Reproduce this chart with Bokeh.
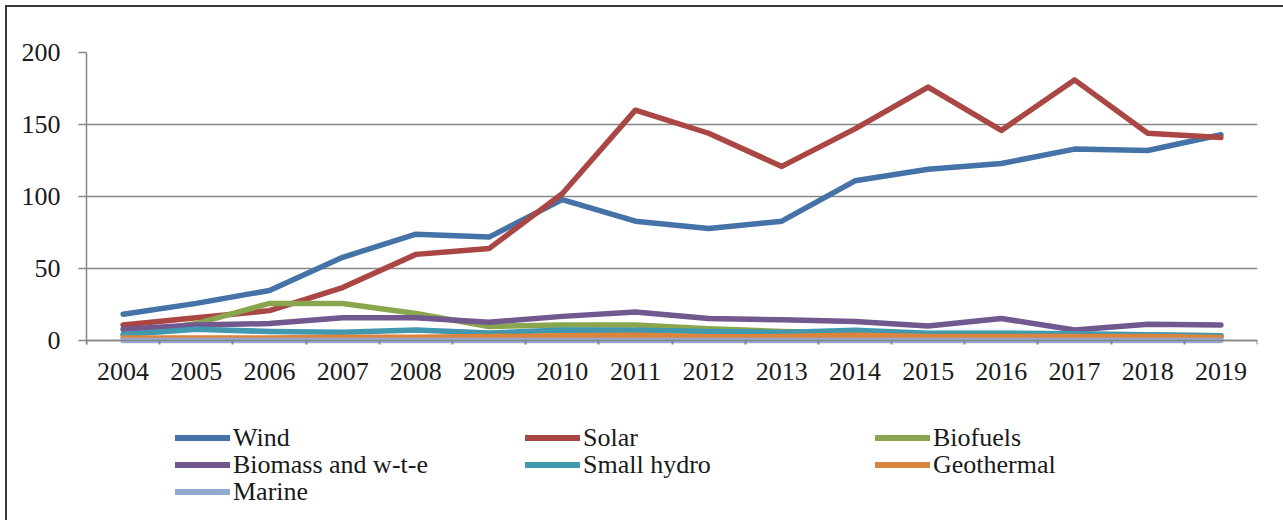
from bokeh.plotting import figure
from bokeh.layouts import column
from bokeh.models import FixedTicker, Legend, LegendItem, Range1d, LinearAxis
from bokeh.embed import file_html
from bokeh.resources import INLINE

years = list(range(2004, 2020))
wind = [18.5, 26, 35, 58, 74, 72, 98, 83, 78, 83, 111, 119, 123, 133, 132, 143]
solar = [11, 16, 21, 37, 60, 64, 102, 160, 144, 121, 147, 176, 146, 181, 144, 141]
biofuels = [4, 12, 26, 26, 19, 10, 11, 11, 8.5, 6.5, 5.5, 5, 5, 4.5, 4, 3.5]
biomass = [8, 11, 12, 16, 16, 13, 17, 20, 15.5, 14.6, 13.4, 10.4, 15.5, 7.6, 11.6, 11.1]
small_hydro = [4.5, 8, 6.5, 6, 7.5, 5.5, 7.5, 7.4, 6.5, 5.8, 7.4, 5.3, 5.3, 5, 4.2, 3.5]
geothermal = [2, 2, 2, 2.5, 2.5, 3, 3.5, 4, 2.8, 3, 4, 3, 3, 3, 3, 2.3]
marine = [0.3, 0.3, 0.3, 0.3, 0.3, 0.3, 0.3, 0.3, 0.3, 0.3, 0.3, 0.3, 0.3, 0.3, 0.3, 0.3]

series = [
    ("Wind", wind, "#4572A7"),
    ("Solar", solar, "#AA4643"),
    ("Biofuels", biofuels, "#89A54E"),
    ("Biomass and w-t-e", biomass, "#71588F"),
    ("Small hydro", small_hydro, "#4198AF"),
    ("Geothermal", geothermal, "#DB843D"),
    ("Marine", marine, "#93A9CF"),
]
y_ticks = [0, 50, 100, 150, 200]

FONT = "Liberation Serif"
GRAY = "#868686"
TXT = "#1a1a1a"
W = 1276

p = figure(width=W, height=394, output_backend="svg", toolbar_location=None,
           x_range=(years[0] - 0.5, years[-1] + 0.5), y_range=(-2.5, 200),
           min_border_left=79, min_border_right=26, min_border_top=45, min_border_bottom=57)
p.outline_line_color = None
p.background_fill_color = "white"
p.border_fill_color = "white"

# label axis (at frame bottom): year labels only
xa = p.xaxis[0]
xa.ticker = FixedTicker(ticks=years, minor_ticks=[])
xa.major_label_overrides = {y: str(y) for y in years}
xa.major_tick_line_color = None
xa.minor_tick_line_color = None
xa.axis_line_color = None
xa.major_label_standoff = 12
xa.major_label_text_font = FONT
xa.major_label_text_font_size = "26px"
xa.major_label_text_color = TXT

# axis line + boundary ticks at y = 0
xa0 = LinearAxis(ticker=FixedTicker(ticks=[], minor_ticks=[y - 0.5 for y in years] + [years[-1] + 0.5]),
                 fixed_location=0, axis_line_color=GRAY, axis_line_width=1.5,
                 major_tick_line_color=None, minor_tick_out=8, minor_tick_in=0,
                 minor_tick_line_color=GRAY, minor_tick_line_width=2)
p.add_layout(xa0, "below")

ya = p.yaxis[0]
ya.ticker = FixedTicker(ticks=y_ticks, minor_ticks=[])
ya.major_tick_out = 8
ya.major_tick_in = 0
ya.major_tick_line_color = GRAY
ya.major_tick_line_width = 1.5
ya.axis_line_color = GRAY
ya.axis_line_width = 1.5
ya.major_label_standoff = 18
ya.major_label_text_font = FONT
ya.major_label_text_font_size = "26px"
ya.major_label_text_color = TXT

p.xgrid.grid_line_color = None
p.ygrid.grid_line_color = GRAY
p.ygrid.grid_line_width = 1.5

for name, vals, col in series:
    p.line(years, vals, line_color=col, line_width=5.5, line_join="round", line_cap="round")

# legend panel (proxy renderers lie outside its visible range)
LH = 119
lg = figure(width=W, height=LH, output_backend="svg", toolbar_location=None,
            x_range=Range1d(0, 1), y_range=Range1d(-20, -10),
            x_axis_location=None, y_axis_location=None,
            min_border_left=0, min_border_right=0, min_border_top=0, min_border_bottom=0)
lg.outline_line_color = None
lg.xgrid.grid_line_color = None
lg.ygrid.grid_line_color = None
lg.background_fill_color = "white"
lg.border_fill_color = "white"

items = []
for name, vals, col in series:
    r = lg.line(years, vals, line_color=col, line_width=6, line_cap="round")
    items.append(LegendItem(label=name, renderers=[r]))

rows = [items[0:3], items[3:6], items[6:7]]
for i, row in enumerate(rows):
    leg = Legend(items=row, orientation="horizontal",
                 location=(89, LH - 24.5 - 27 * i - 27), margin=0, padding=0, spacing=0,
                 glyph_width=55, glyph_height=27, label_standoff=3,
                 label_width=292, label_height=27,
                 label_text_font=FONT, label_text_font_size="26px",
                 label_text_color=TXT, label_text_baseline="middle",
                 border_line_color=None, background_fill_alpha=0)
    lg.add_layout(leg)

layout = column(p, lg, spacing=0)
layout.styles = {"margin-top": "5px", "margin-left": "5px",
                 "border-top": "2px solid #3a3a3a", "border-left": "2px solid #3a3a3a"}

open("out.html", "w").write(file_html(layout, INLINE))
